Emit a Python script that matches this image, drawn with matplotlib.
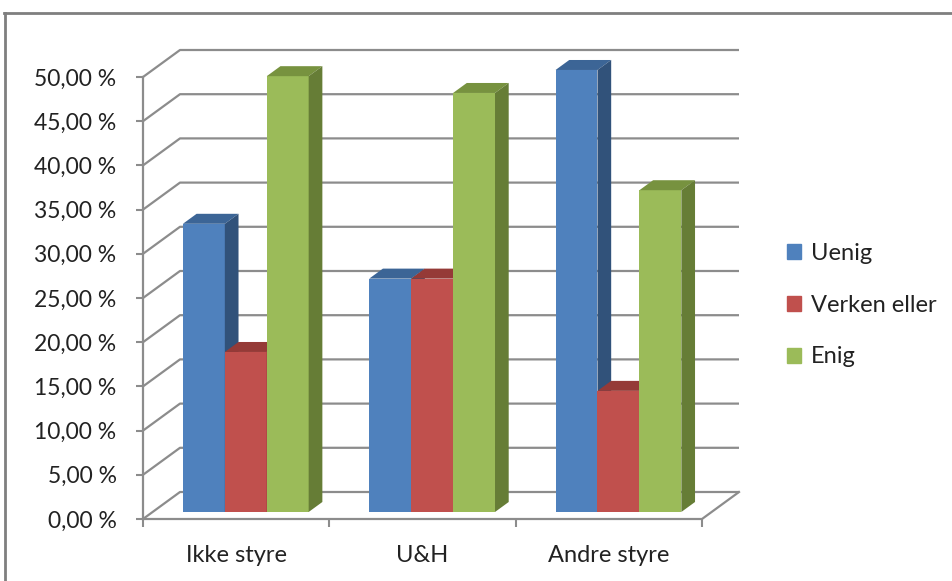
import numpy as np
import matplotlib.pyplot as plt
from matplotlib.patches import Polygon, Patch
from matplotlib.lines import Line2D

plt.rcParams['font.family'] = ['Lato', 'DejaVu Sans']

# data (percent)
categories = ['Ikke styre', 'U&H', 'Andre styre']
series = ['Uenig', 'Verken eller', 'Enig']
uenig = [32.6, 26.4, 50.0]
verken = [18.1, 26.4, 13.7]
enig = [49.3, 47.4, 36.4]
yticks = np.arange(0, 55, 5)
ytick_labels = [f'{t:.2f} %'.replace('.', ',') for t in yticks]

# front / top / side colours for each series
front = ['#4f81bd', '#c0504d', '#9bbb59']
top = ['#3c6596', '#953a37', '#77923f']
side = ['#31527a', '#8b3532', '#667d36']
grid_col = '#8c8c8c'
text_col = '#222222'

W, H = 953, 581
fig = plt.figure(figsize=(W / 100, H / 100), dpi=100)
ax = fig.add_axes([143 / W, (H - 519) / H, 559 / W, 442 / H])
ax.set_xlim(0, 3)
ax.set_ylim(0, 50)

# depth of the 3d box in data units
DX = 37 / 559 * 3
DY = 27 / 442 * 50
d1, d2 = 0.26, 0.63   # front / back of the bars as fraction of depth
bw = 0.225

# walls and floor
for t in yticks:
    ax.plot([0, DX, 3 + DX], [t, t + DY, t + DY], color=grid_col, lw=1.6,
            clip_on=False, zorder=1, solid_capstyle='butt')
ax.plot([0, 3, 3 + DX], [0, 0, DY], color=grid_col, lw=1.6, clip_on=False, zorder=1)
ax.plot([0, 0], [0, 50], color=grid_col, lw=1.6, clip_on=False, zorder=1)

# bars
data = [uenig, verken, enig]
ddx, ddy = (d2 - d1) * DX, (d2 - d1) * DY
for i, vals in enumerate(data):
    x0 = np.arange(len(categories)) + 0.5 - 1.5 * bw + i * bw + d1 * DX
    y0 = d1 * DY
    ax.bar(x0, vals, width=bw, bottom=y0, align='edge', color=front[i],
           zorder=3 + i, clip_on=False, linewidth=0)
    for x, v in zip(x0, vals):
        ax.add_patch(Polygon([(x, y0 + v), (x + bw, y0 + v), (x + bw + ddx, y0 + v + ddy),
                              (x + ddx, y0 + v + ddy)], closed=True, color=top[i],
                             zorder=3 + i, clip_on=False, lw=0))
        ax.add_patch(Polygon([(x + bw, y0), (x + bw, y0 + v), (x + bw + ddx, y0 + v + ddy),
                              (x + bw + ddx, y0 + ddy)], closed=True, color=side[i],
                             zorder=3 + i, clip_on=False, lw=0))

# axes ticks and labels
for s in ax.spines.values():
    s.set_visible(False)
ax.set_yticks(yticks, ytick_labels)
ax.tick_params(axis='y', length=5, width=1.5, color=grid_col, pad=14,
               labelsize=16.5, labelcolor=text_col)
ax.set_xticks([0, 1, 2, 3], [''] * 4)
ax.set_xticks([0.5, 1.5, 2.5], categories, minor=True)
ax.tick_params(axis='x', which='major', length=6, width=1.5, color=grid_col)
ax.tick_params(axis='x', which='minor', length=0, pad=19, labelsize=17,
               labelcolor=text_col)

# legend
handles = [Patch(color=c) for c in front]
ax.legend(handles, series, loc='upper left', bbox_to_anchor=(787 / W, 1 - 243 / H),
          bbox_transform=fig.transFigure, frameon=False, fontsize=17,
          handlelength=0.6, handleheight=0.6, handletextpad=0.4,
          labelspacing=1.3, borderpad=0, borderaxespad=0, labelcolor=text_col)

# chart border (cropped on the right and bottom)
fig.add_artist(Line2D([4 / W, 1], [1 - 13 / H] * 2, transform=fig.transFigure,
                      color='#7f7f7f', lw=2))
fig.add_artist(Line2D([5 / W, 5 / W], [0, 1 - 13 / H], transform=fig.transFigure,
                      color='#7f7f7f', lw=2))

fig.savefig('out.png', dpi=100)
